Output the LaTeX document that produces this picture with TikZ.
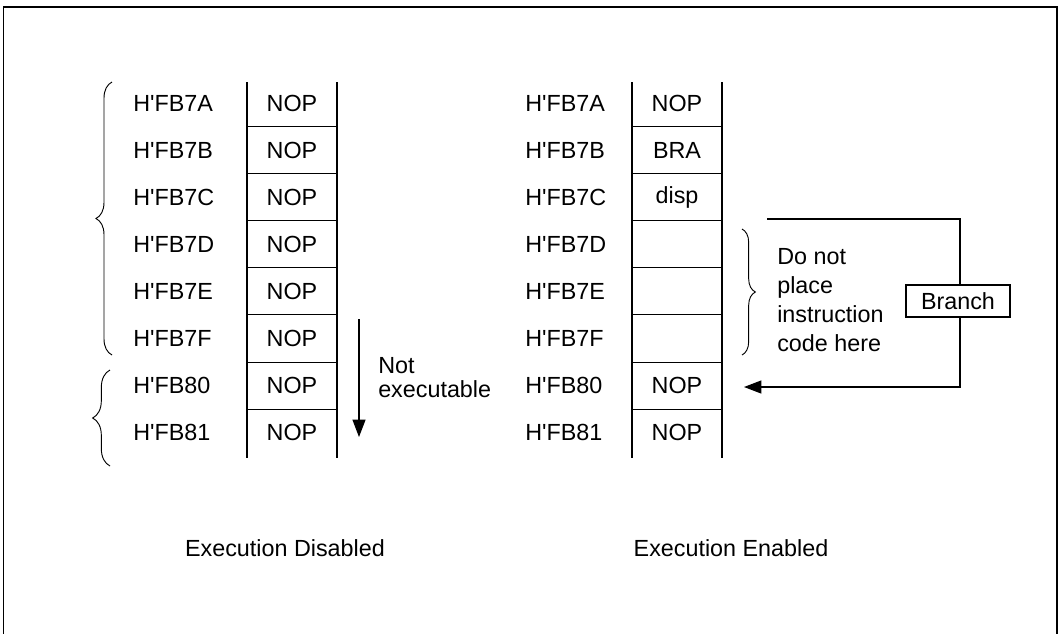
\documentclass[tikz,border=0pt]{standalone}
\usepackage{fontspec}
\setmainfont{Liberation Sans}
\usetikzlibrary{calc,arrows.meta,decorations.pathreplacing,positioning}

\newcommand{\hfb}{H\textquotesingle FB}

\begin{document}
\begin{tikzpicture}[x=0.75pt,y=-0.75pt,
	every node/.style={font=\fontsize{17.5}{18}\selectfont,inner sep=0pt},
	addr/.style={anchor=west},
	rule/.style={line width=0.8pt},
	brc/.style={decorate,decoration={brace,amplitude=#1},line width=0.7pt},
	tip/.style={-{Triangle[length=13pt,width=9.75pt]}}]
	\useasboundingbox (0,0) rectangle (1060,633);
	\draw[line width=1.3pt] (3.5,660) -- (3.5,7) -- (1057,7) -- (1057,660);
	
	% the two memory columns
	\draw[rule] (247,82) -- (247,458) (337,82) -- (337,458);
	\draw[rule] (632,82) -- (632,458) (722,82) -- (722,458);
	\foreach \i in {1,...,7} {
		\draw[rule] (247,{79.45+47.1*\i}) -- (337,{79.45+47.1*\i});
		\draw[rule] (632,{79.45+47.1*\i}) -- (722,{79.45+47.1*\i});
	}
	
	\foreach \a/\rv [count=\i from 0] in {7A/NOP,7B/BRA,7C/disp,7D/,7E/,7F/,80/NOP,81/NOP} {
		\node[addr] (lA\i) at (133,{103+47.1*\i}) {\hfb\a};
		\node (lV\i) at (292,{103+47.1*\i}) {NOP};
		\node[addr] (rA\i) at (525,{103+47.1*\i}) {\hfb\a};
		\node (rV\i) at (677,{103+47.1*\i}) {\rv};
	}
	
	% braces
	\draw[brc=12] (112,355) -- (112,82);
	\draw[brc=13] (110,466) -- (110,370);
	\draw[brc=10] (742,229) -- (742,355);
	
	% not executable
	\coordinate (neTop) at (359,319);
	\coordinate (neBot) at (359,437);
	\draw[rule,tip] (neTop) -- (neBot);
	\node[anchor=west,align=left] (notex) at (378,377.5) {Not\\executable};
	
	\node[anchor=west,align=left,font=\fontsize{17.5}{21.75}\selectfont] (noplace) at (777,300)
		{Do not\\place\\instruction\\code here};
	
	% branch
	\coordinate (brS) at (767,219);
	\coordinate (brC) at (960,219);
	\coordinate (brE) at (744,387);
	\draw[rule,tip] (brS) -- (brC) |- (brE);
	\node[draw,rule,fill=white,minimum width=78pt,minimum height=24pt] (brch) at (958,301) {Branch};
	
	\node (capL) at (285,548) {Execution Disabled};
	\node (capR) at (731,548) {Execution Enabled};
\end{tikzpicture}
\end{document}
